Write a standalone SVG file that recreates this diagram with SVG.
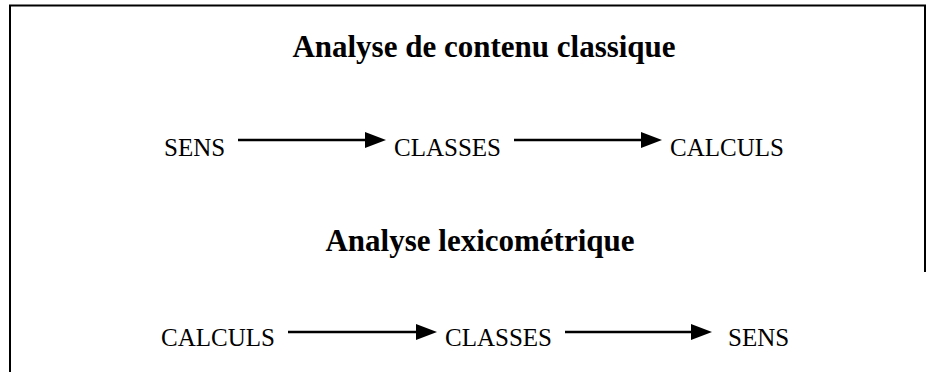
<svg xmlns="http://www.w3.org/2000/svg" width="927" height="372" viewBox="0 0 927 372">
<style>
.frame{fill:none;stroke:#000;stroke-width:2}
.title{font-family:"Liberation Serif","Times New Roman",serif;font-weight:bold;font-size:31px;fill:#000;text-anchor:middle}
.lbl{font-family:"Liberation Serif","Times New Roman",serif;font-size:25px;fill:#000}
.conn{stroke:#000;stroke-width:2.5;fill:none}
.head{fill:#000}
</style>
<g id="frame">
<path class="frame" d="M10,372 V5.5 H925 V272"/>
</g>
<g id="title1"><text class="title" x="484" y="57">Analyse de contenu classique</text></g>
<g id="title2"><text class="title" x="480" y="251">Analyse lexicométrique</text></g>
<g id="row1-sens"><text class="lbl" x="164" y="156">SENS</text></g>
<g id="row1-classes"><text class="lbl" x="394" y="156">CLASSES</text></g>
<g id="row1-calculs"><text class="lbl" x="670" y="156">CALCULS</text></g>
<g id="row2-calculs"><text class="lbl" x="161" y="346">CALCULS</text></g>
<g id="row2-classes"><text class="lbl" x="445" y="346">CLASSES</text></g>
<g id="row2-sens"><text class="lbl" x="728" y="346">SENS</text></g>
<g id="connectors">
<line class="conn" x1="238" y1="140" x2="367" y2="140"/>
<polygon class="head" points="365,132 386,140 365,148"/>
<line class="conn" x1="514" y1="140" x2="643" y2="140"/>
<polygon class="head" points="641,132 662,140 641,148"/>
<line class="conn" x1="288" y1="332" x2="418" y2="332"/>
<polygon class="head" points="416,324 437,332 416,340"/>
<line class="conn" x1="565" y1="332" x2="693" y2="332"/>
<polygon class="head" points="691,324 712,332 691,340"/>
</g>
</svg>
